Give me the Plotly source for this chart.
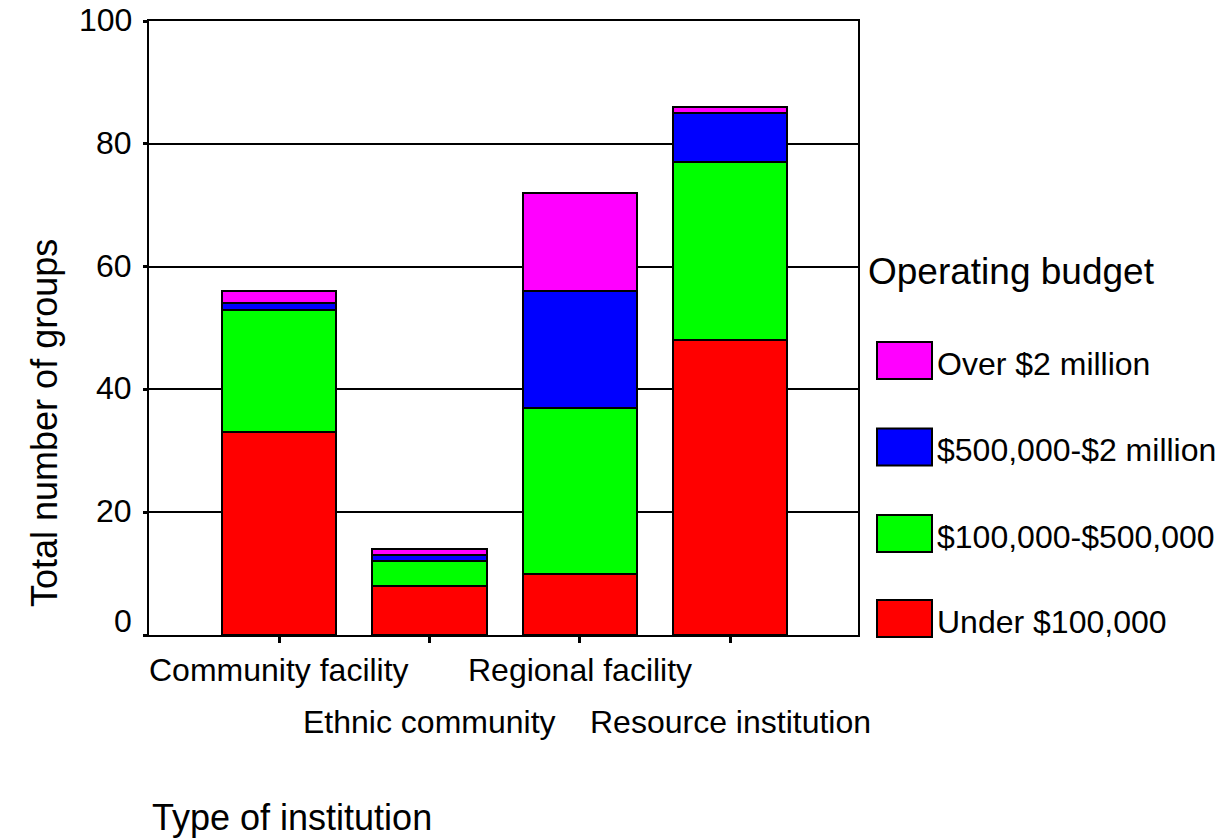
import plotly.graph_objects as go

categories = ["Community facility", "Ethnic community", "Regional facility", "Resource institution"]
series_names = ["Under $100,000", "$100,000-$500,000", "$500,000-$2 million", "Over $2 million"]
under_100k = [33, 8, 10, 48]
k100_500k = [20, 4, 27, 29]
k500_2m = [1, 1, 19, 8]
over_2m = [2, 1, 16, 1]
series_values = [under_100k, k100_500k, k500_2m, over_2m]
colors = ["#FF0000", "#00FF00", "#0000FF", "#FF00FF"]
y_ticks = [0, 20, 40, 60, 80, 100]
legend_title = "Operating budget"
x_title = "Type of institution"
y_title = "Total number of groups"

FONT = "Liberation Sans, Arial, sans-serif"
W, H = 1224, 840
L, R, T, B = 149, 858, 21, 635


def px(x):
    return (x - L) / (R - L)


def py(y):
    return (B - y) / (B - T)


fig = go.Figure()
for name, vals, col in zip(series_names, series_values, colors):
    fig.add_trace(go.Bar(
        x=categories, y=vals, name=name, width=0.76,
        marker=dict(color=col, line=dict(color="black", width=2)),
        showlegend=False,
    ))

annotations = []
# y tick labels (the "0" sits raised above the axis, as in the reference)
for v in y_ticks:
    annotations.append(dict(
        x=px(134), xref="paper", y=v, yref="y", text=str(v), showarrow=False,
        xanchor="right", yanchor="middle", yshift=14 if v == 0 else 1,
        font=dict(size=32, color="black", family=FONT),
    ))

# staggered category labels
row_y = [670, 722]
for i, c in enumerate(categories):
    annotations.append(dict(
        x=c, xref="x", y=py(row_y[i % 2]), yref="paper", text=c, showarrow=False,
        xanchor="center", yanchor="middle", font=dict(size=32, color="black", family=FONT),
    ))

annotations.append(dict(
    x=px(150), xref="paper", y=py(817), yref="paper", text=x_title, showarrow=False,
    xanchor="left", yanchor="middle", font=dict(size=36, color="black", family=FONT),
))
annotations.append(dict(
    x=px(44), xref="paper", y=py(423), yref="paper", text=y_title, showarrow=False,
    textangle=-90, xanchor="center", yanchor="middle",
    font=dict(size=36, color="black", family=FONT),
))
annotations.append(dict(
    x=px(866), xref="paper", y=py(271), yref="paper", text=legend_title, showarrow=False,
    xanchor="left", yanchor="middle", font=dict(size=37, color="black", family=FONT),
))

shapes = []
legend_centers = [618.5, 533.5, 447, 360.5]
for name, col, cy in zip(series_names, colors, legend_centers):
    shapes.append(dict(
        type="rect", xref="paper", yref="paper",
        x0=px(877), x1=px(932), y0=py(cy + 18.5), y1=py(cy - 18.5),
        fillcolor=col, line=dict(color="black", width=2),
    ))
    annotations.append(dict(
        x=px(935), xref="paper", y=py(cy + 3), yref="paper", text=name, showarrow=False,
        xanchor="left", yanchor="middle", font=dict(size=32, color="black", family=FONT),
    ))

fig.update_layout(
    width=W, height=H,
    margin=dict(l=L, r=W - R, t=T, b=H - B, pad=0, autoexpand=False),
    paper_bgcolor="white", plot_bgcolor="white",
    barmode="stack", bargap=0.24,
    font=dict(family=FONT, color="black"),
    annotations=annotations, shapes=shapes,
    showlegend=False,
)
fig.update_xaxes(
    range=[-0.865, 3.851], showticklabels=False, automargin=False,
    ticks="outside", ticklen=6, tickwidth=3, tickcolor="black",
    showline=True, linecolor="black", linewidth=2, mirror=True,
    showgrid=False, zeroline=False,
)
fig.update_yaxes(
    range=[0, 100], tickvals=y_ticks, showticklabels=False, automargin=False,
    ticks="outside", ticklen=4, tickwidth=3, tickcolor="black",
    showline=True, linecolor="black", linewidth=2, mirror=True,
    showgrid=True, gridcolor="black", gridwidth=1.5, zeroline=False,
)

fig.write_html(
    "out.html",
    config={"displayModeBar": False},
    post_script="document.body.style.margin='0';document.body.style.overflow='hidden';",
)
